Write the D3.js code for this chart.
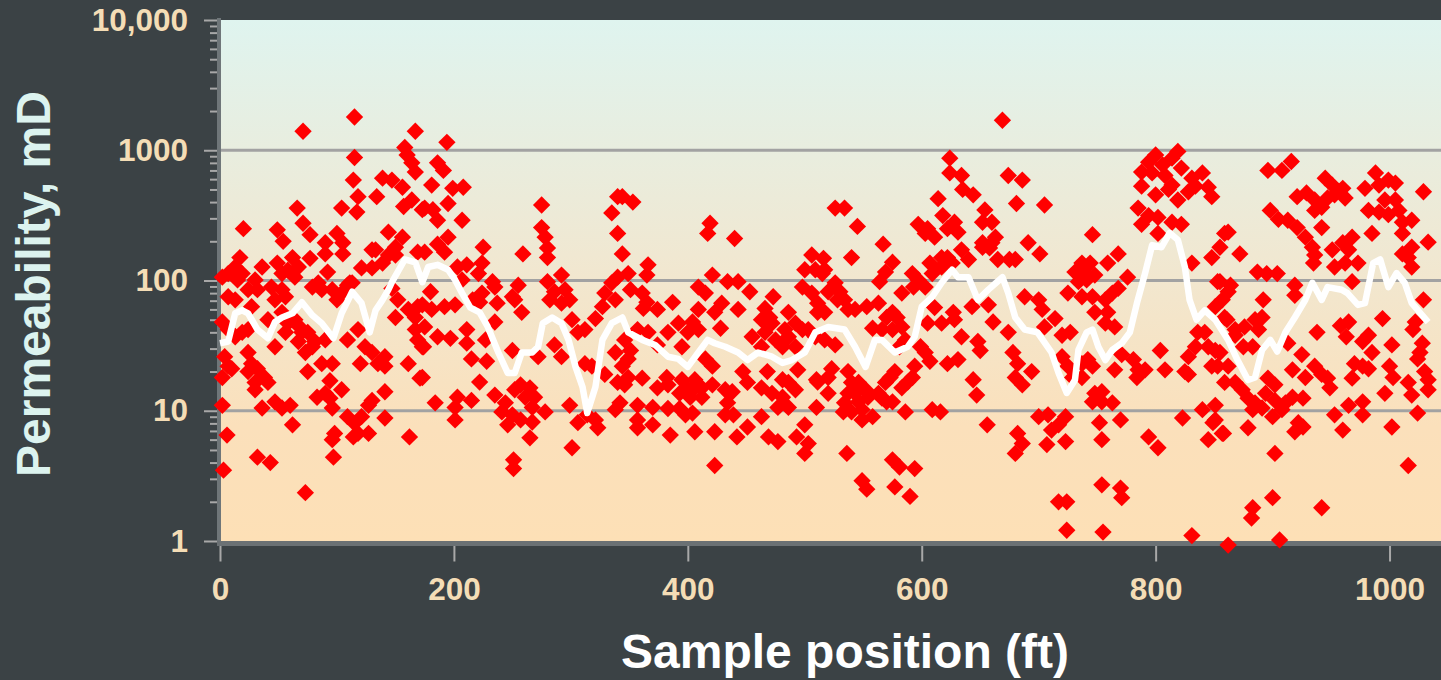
<!DOCTYPE html>
<html>
<head>
<meta charset="utf-8">
<script src="https://cdn.jsdelivr.net/npm/d3@7/dist/d3.min.js"></script>
<style>
  html, body { margin: 0; padding: 0; background: #3b4245; }
  svg { display: block; }
  text { font-family: Arial, "Liberation Sans", sans-serif; font-weight: bold; }
</style>
</head>
<body>
<div id="chart"></div>
<script>
// core plug samples: [position ft, permeability mD]
var samplePoints = [
  [115,1800],[71,1400],[167,1400],[115,880],[158,1050],[160,920],[164,800],[167,680],[156,520],[164,415],[157,370],[173,350],
  [114,590],[139,610],[147,590],[118,440],[134,440],[117,335],[104,360],[66,360],[20,250],[49,245],[54,200],[71,275],[77,225],[90,195],[100,230],[105,195],[105,160],[144,235],[156,215],[150,180],[150,157],[133,172],[144,157],[169,165],
  [17,150],[13,127],[19,113],[7,113],[15,101],[36,127],[49,136],[53,113],[62,150],[58,120],[64,106],[67,127],[77,148],[90,160],[92,116],[2,106],[121,125],[130,125],[130,172],[111,96],[139,136],[24,85],[32,85],[30,101],[7,75],[13,71],[27,63],[44,89],[53,85],[47,71],[56,75],[79,89],[87,85],[84,96],[96,85],[104,80],[100,71],[109,92],[113,96],[147,87],[152,71],[150,52],[161,60],[169,63],
  [41,50],[53,57],[58,47],[64,50],[68,44],[75,40],[70,40],[81,34],[90,35],[79,31],[73,28],[67,34],[47,31],[56,40],[2,48],[7,42],[13,37],[19,40],[24,42],[109,35],[118,42],[124,31],[130,28],[135,23],[141,26],[167,42],[169,35],[173,31],
  [4,26],[7,22],[2,18],[10,21],[24,28],[27,23],[32,21],[24,20],[38,18],[30,16.5],[41,16.5],[30,14.5],[75,20],[87,23],[96,23],[94,17],[104,14.5],[90,13.6],[120,23],[141,22],[141,14],[161,23],[173,18],[2,11],[36,10.5],[47,11.7],[53,10.5],[60,11],[83,12.7],[94,12.5],[96,10.5],[109,9],[115,8],[121,9],[127,11],[130,12],[118,6.7],[127,6.7],[114,6.3],[141,8.8],[62,7.8],[98,6.7],[96,6],[97,4.4],[162,6.3],[6,6.5],[32,4.4],[43,4],[3,3.5],[73,2.35],
  [194,1150],[186,800],[191,700],[181,540],[199,510],[208,520],[175,360],[182,350],[186,290],[195,390],[207,290],[195,215],[186,190],[175,165],[192,165],[225,180],[259,160],[275,380],[275,255],[278,215],[280,178],[280,150],[340,440],[335,330],[340,230],[344,160],
  [203,127],[211,132],[224,136],[221,113],[207,101],[233,98],[224,80],[235,89],[255,92],[292,110],[280,98],[286,82],[295,85],[282,71],[299,71],[292,67],[335,96],[329,80],[338,71],[327,63],[340,106],[180,82],[173,65],[181,60],[167,52],
  [192,63],[201,65],[216,71],[222,68],[250,75],[258,57],[237,67],[252,71],[235,48],[175,44],[174,31],[186,37],[197,36],[211,42],[211,33],[227,35],[250,29],[215,25],[228,24],[272,26],[286,32],[292,26],[301,50],[306,40],[312,42],[321,51],[312,23],[318,22],[329,19],[338,28],[344,22],[340,16.5],[171,17.8],[222,16.6],
  [184,11.5],[203,12.7],[215,12],[201,10.6],[201,8.5],[235,13.2],[244,11.5],[252,14.5],[257,15.8],[265,15],[261,12.7],[269,12.7],[267,10.6],[278,9.8],[241,9.8],[250,9.3],[246,7.8],[257,8.5],[267,8.2],[265,6.2],[251,4.2],[251,3.6],[299,11],[306,8.1],[314,9.3],[321,8.5],[323,7.4],[301,5.2],[338,10.2],[342,11.5],
  [344,440],[353,400],[419,275],[417,230],[440,210],[366,132],[365,110],[349,113],[421,110],[434,98],[443,98],[453,82],[409,89],[415,80],[351,85],[361,80],[365,68],[362,61],[374,60],[387,68],[473,75],[466,61],[470,52],[506,157],[500,121],[509,121],[498,89],[506,80],[515,113],[409,60],[429,67],[423,57],[443,60],[428,43],[486,57],[492,47],[483,42],[498,42],[503,42],[511,57],[392,47],[404,48],[400,40],[409,42],[383,40],[395,31],[357,42],[366,40],[374,32],[463,50],[472,47],[455,37],[466,40],[475,35],[463,31],[486,37],[481,31],[492,31],[346,35],[351,29],[349,25],[421,22],[415,25],
  [349,18],[361,17.8],[346,15.8],[374,15],[382,18],[383,15.8],[395,17.3],[399,15],[406,17.3],[404,14.5],[412,15],[421,15.8],[412,12.7],[402,12.7],[393,13.6],[432,14.5],[438,14],[434,11.5],[432,9.3],[439,9.3],[447,20],[451,16.5],[463,15],[472,13.6],[481,17.3],[486,16.5],[492,14.5],[481,12.7],[477,10.6],[486,10.6],[494,20.6],[468,20],[357,11],[370,10.6],[383,10.4],[393,10.4],[398,9.3],[404,9.6],[510,10.6],[510,17.3],[357,8.5],[370,7.8],[357,7.4],[385,6.5],[406,6.9],[423,6.9],[442,6.3],[451,7.5],[463,9],[469,6.3],[477,5.8],[493,6.3],[500,7.8],[503,5.6],[500,4.7],[423,3.8],
  [669,1700],[624,870],[624,670],[634,640],[635,500],[644,455],[674,640],[681,390],[686,590],
  [614,425],[618,315],[622,250],[628,280],[631,235],[597,270],[605,250],[611,215],[603,230],
  [654,348],[652,280],[660,280],[663,215],[652,195],[658,178],[526,360],[534,360],[545,260],[567,190],[540,150],[516,148],[517,121],
  [575,138],[569,116],[564,98],[583,80],[575,57],[570,52],
  [592,113],[597,101],[603,89],[593,89],[607,136],[617,150],[609,113],[617,127],[622,150],[626,136],[634,172],[640,145],[665,145],[675,145],[660,195],[652,180],
  [526,96],[520,82],[530,82],[528,71],[534,71],[537,60],[543,60],[517,57],[511,67],[553,63],[563,67],[558,43],[566,42],[579,52],[575,42],[583,44],[586,35],[581,31],[605,47],[611,62],[617,47],[627,57],[628,50],[643,63],[657,65],[661,48],[674,40],[634,37],[648,34],[650,29],[678,28],[682,23],[680,18],[686,15.8],
  [599,31],[603,28],[607,24],[594,22],[592,18],[583,15],[588,16.6],[622,23],[631,24.7],[644,17.3],[647,13.2],[509,37],[517,35],[526,32],[523,21],[520,18],[511,16.6],[520,13.6],
  [537,20],[540,16.5],[546,16.5],[552,14.5],[543,13.6],[537,13.6],[534,11.5],[546,11.7],[554,12.7],[563,13.6],[569,16.5],[573,18],[577,20],[566,12.5],[570,11.7],[575,11.7],[533,9.8],[540,9.8],[549,8.5],[558,9],[549,10.2],[586,9.8],[609,10.2],[616,9.8],[656,7.8],[682,6.7],[680,4.7],[686,5.6],[536,4.7],[575,4.2],[581,3.7],[594,3.6],[549,2.9],[553,2.5],[577,2.6],[590,2.2],
  [794,810],[800,920],[806,770],[814,870],[819,980],[822,730],[788,680],[797,670],[808,640],[814,540],[831,610],[840,670],[834,530],[845,520],[848,440],[788,530],[800,455],[811,500],[819,415],[828,480],
  [785,360],[794,315],[802,305],[788,270],[814,280],[822,270],[802,230],[705,380],[746,225],[691,195],[701,160],[680,145],
  [737,136],[744,136],[731,116],[740,113],[748,110],[734,98],[741,101],[759,136],[768,160],[776,106],[763,80],[768,87],[757,71],[748,57],[759,57],[765,44],[725,80],[737,75],[746,75],[757,47],
  [831,136],[688,75],[700,71],[703,60],[714,51],[705,44],[720,38],[727,40],[848,150],[853,98],[857,71],[851,63],[859,52],[859,230],
  [836,40],[842,40],[834,31],[828,26],[825,20],[845,31],[851,29],[853,22],[848,22],[694,20],
  [720,26],[725,22],[729,18],[737,23],[742,24.7],[746,22],[737,18],
  [771,27],[765,20.6],[781,24.7],[785,20.6],[784,18],[791,20.6],[804,29],[808,20.6],[828,19],
  [748,13.6],[754,14],[763,11.5],[746,11.7],[754,11.7],
  [700,9],[708,9.3],[723,9],[711,7.1],[717,7.8],[707,5.5],[723,5.8],
  [752,8.1],[770,8.5],[754,6],[794,6.3],[802,5.2],[823,8.8],[840,10.2],[851,11],[849,8.1],[845,6],[857,6.7],
  [754,2.7],[770,2.55],[771,2.15],[717,2],[724,2],[724,1.21],[755,1.17],[831,1.1],
  [896,700],[908,700],[916,820],[945,610],[951,540],[960,510],[921,440],[929,470],[936,415],[942,365],[947,430],[953,455],[962,430],[979,510],[988,670],[991,540],[999,590],[1005,560],[996,415],[1005,415],[1029,480],[982,345],[991,335],[999,320],[1008,345],[1011,280],[1019,290],[898,345],[905,295],[913,290],[921,255],[936,345],[942,255],
  [928,215],[934,180],[936,157],[951,172],[960,195],[968,215],[965,172],[962,136],[953,127],[973,136],[985,230],[1011,230],[1019,180],[1033,197],[1016,150],[1011,160],[1019,127],
  [862,235],[872,160],[855,180],[887,116],[895,113],[904,113],[935,136],[919,92],[919,77],[968,98],
  [855,98],[864,92],[862,82],[892,71],[1029,71],[994,51],[1022,48],[1020,42],
  [861,50],[868,42],[876,44],[885,50],[891,52],[888,42],[883,31],[875,31],[868,38],
  [938,40],[958,45],[965,48],[963,37],[977,34],[982,38],[985,28],[1002,32],[1028,33],[1026,28],[1024,25],
  [855,28],[862,22],[859,16.5],[868,16.5],[874,14.5],[879,12.5],[885,11.5],[883,10.2],[891,10.5],
  [913,33],[925,27],[917,20.6],[928,18],[936,22],[942,19],[947,17.8],[949,15],
  [896,17.8],[902,15.8],[894,13.6],[902,12],[911,11.5],[917,12.7],[908,10.2],[900,9],[926,12.5],[922,8.1],[926,7.5],[919,6.9],
  [970,23],[977,22],[982,21],[968,17.8],[996,13.6],[1000,22],[1003,18],[1016,16.5],[1019,13.2],[1030,20],[1033,14.5],[1024,9.6],[1033,17.3],
  [965,11],[977,11.7],[977,9.3],[953,9.3],[960,7.1],[1002,7.5],
  [851,8.5],[858,6.7],[879,7.4],
  [902,4.7],[1016,3.8],[900,2.15],[883,1.8],[882,1.5],[942,1.8],[862,0.93],[906,1.02]
];

// running average of the samples: [position ft, permeability mD]
var movingAvg = [
  [0,33],[7,34],[13,56],[19,59],[24,56],[32,42],[41,36],[47,48],[53,52],[62,56],[70,68],[79,54],[87,47],[97,36],
  [104,56],[113,82],[121,67],[128,40],[133,59],[139,71],[144,85],[147,97],[158,145],[167,138],[173,97],[178,127],
  [186,132],[195,121],[201,101],[207,80],[214,62],[222,57],[229,44],[238,28],[246,19.5],[252,19.5],[258,28],[267,28],
  [272,31],[276,47],[284,52],[292,47],[298,35],[304,21.7],[310,15.2],[314,9.6],[321,15.2],[327,35],[335,47],[344,52],
  [349,40],[361,35],[372,32],[383,26],[392,25],[400,21.7],[409,28],[417,35],[423,33],[432,31],[443,28],[451,24.5],
  [460,28],[472,26],[481,23.3],[489,24.5],[500,28],[509,40],[520,44],[534,42],[543,31],[552,21.7],[560,35],[566,35],
  [577,28],[588,31],[594,37],[600,63],[609,75],[617,96],[626,121],[631,106],[640,106],[648,71],[657,85],[669,106],
  [674,80],[680,52],[688,42],[699,40],[711,28],[717,19.5],[724,13.7],[731,17.2],[734,29.3],[741,40],[746,42],[751,31],
  [757,24.5],[763,29.3],[771,33],[778,40],[784,67],[791,114],[797,187],[805,180],[812,232],[819,205],[825,127],[829,71],
  [835,50],[842,59],[851,50],[862,35],[870,24.5],[879,17.2],[885,18],[891,29.3],[898,35],[904,28.5],[911,40],[919,52],
  [928,71],[934,96],[942,71],[947,89],[959,85],[964,80],[973,65],[979,67],[986,136],[992,145],[999,89],[1006,114],
  [1013,96],[1019,67],[1033,48]
];

var yMajorTicks = [1, 10, 100, 1000, 10000];
var yTickLabels = ["1", "10", "100", "1000", "10,000"];
var xTicks = [0, 200, 400, 600, 800, 1000];

var width = 1441,
  height = 680,
  plotLeft = 220,
  plotTop = 20,
  plotBottom = 541;

var svg = d3.select("#chart")
  .append("svg")
  .attr("width", width)
  .attr("height", height);

svg.append("rect")
  .attr("width", width)
  .attr("height", height)
  .attr("fill", "#3b4245");

var x = d3.scaleLinear()
  .domain([0, 1044])
  .range([plotLeft, width]);

var y = d3.scaleLog()
  .domain([1, 10000])
  .range([plotBottom, plotTop]);

// background gradient of the plot area
var grad = svg.append("defs")
  .append("linearGradient")
  .attr("id", "bg")
  .attr("x1", 0).attr("y1", 0)
  .attr("x2", 0).attr("y2", 1);
grad.append("stop").attr("offset", "0%").attr("stop-color", "#dff4ef");
grad.append("stop").attr("offset", "45%").attr("stop-color", "#f0e8d2");
grad.append("stop").attr("offset", "78%").attr("stop-color", "#fbe0bb");
grad.append("stop").attr("offset", "100%").attr("stop-color", "#fde0b6");

svg.append("rect")
  .attr("x", plotLeft)
  .attr("y", plotTop)
  .attr("width", width - plotLeft)
  .attr("height", plotBottom - plotTop)
  .attr("fill", "url(#bg)");

// grid lines
svg.append("g")
  .selectAll("line")
  .data([10, 100, 1000])
  .enter().append("line")
  .attr("x1", plotLeft)
  .attr("x2", width)
  .attr("y1", function(d) { return y(d); })
  .attr("y2", function(d) { return y(d); })
  .style("stroke", "#a2a2a2")
  .style("stroke-width", 3);

// minor ticks 2..9 per decade
var minorTicks = [];
[1, 10, 100, 1000].forEach(function(dec) {
  for (var k = 2; k < 10; k++) minorTicks.push(k * dec);
});

var yAxisX = 219;

svg.append("g")
  .attr("transform", "translate(" + yAxisX + ",0)")
  .call(d3.axisLeft(y).tickValues(minorTicks).tickSize(9).tickFormat(""))
  .call(function(g) { g.select(".domain").remove(); })
  .selectAll("line")
  .style("stroke", "#a8a8a8")
  .style("stroke-width", 2);

var yAxis = svg.append("g")
  .attr("class", "y-axis")
  .attr("transform", "translate(" + yAxisX + ",0)")
  .call(d3.axisLeft(y)
    .tickValues(yMajorTicks)
    .tickSize(15)
    .tickPadding(16)
    .tickFormat(function(d, i) { return yTickLabels[i]; }));

yAxis.select(".domain").remove();
yAxis.selectAll("line")
  .style("stroke", "#a8a8a8")
  .style("stroke-width", 2);
yAxis.selectAll("text")
  .style("font-size", "31.5px")
  .style("font-weight", "bold")
  .style("font-family", "Arial, 'Liberation Sans', sans-serif")
  .attr("fill", "#f4ddb6");

svg.append("line")
  .attr("x1", yAxisX).attr("x2", yAxisX)
  .attr("y1", plotTop - 2).attr("y2", plotBottom + 5)
  .style("stroke", "#6f7679")
  .style("stroke-width", 4);

var xAxisY = 543.5;
var xAxis = svg.append("g")
  .attr("transform", "translate(0," + xAxisY + ")")
  .call(d3.axisBottom(x).tickValues(xTicks).tickSize(18).tickFormat(d3.format("d")));

xAxis.select(".domain").remove();
xAxis.selectAll("line")
  .style("stroke", "#a8a8a8")
  .style("stroke-width", 2);
xAxis.selectAll("text")
  .attr("y", 56)
  .attr("dy", 0)
  .style("font-size", "31.5px")
  .style("font-weight", "bold")
  .style("font-family", "Arial, 'Liberation Sans', sans-serif")
  .attr("fill", "#f4ddb6");

svg.append("line")
  .attr("x1", yAxisX - 2).attr("x2", width)
  .attr("y1", xAxisY).attr("y2", xAxisY)
  .style("stroke", "#6b7174")
  .style("stroke-width", 5);

// samples as red diamonds
var diamond = d3.symbol().type(d3.symbolSquare).size(150);

svg.append("g")
  .selectAll("path")
  .data(samplePoints)
  .enter().append("path")
  .attr("d", diamond)
  .attr("transform", function(d) {
    return "translate(" + x(d[0]) + "," + y(d[1]) + ") rotate(45)";
  })
  .style("fill", "#ff0000");

// running average line
var line = d3.line()
  .x(function(d) { return x(d[0]); })
  .y(function(d) { return y(d[1]); });

svg.append("path")
  .datum(movingAvg)
  .attr("d", line)
  .style("fill", "none")
  .style("stroke", "#ffffff")
  .style("stroke-width", 6.5)
  .style("stroke-linejoin", "round");

// axis titles
svg.append("text")
  .attr("x", 845)
  .attr("y", 668)
  .attr("text-anchor", "middle")
  .style("font-size", "48px")
  .attr("fill", "#ffffff")
  .text("Sample position (ft)");

svg.append("text")
  .attr("transform", "translate(50,284) rotate(-90)")
  .attr("text-anchor", "middle")
  .style("font-size", "48px")
  .attr("fill", "#dcf3ef")
  .text("Permeability, mD");
</script>
</body>
</html>
